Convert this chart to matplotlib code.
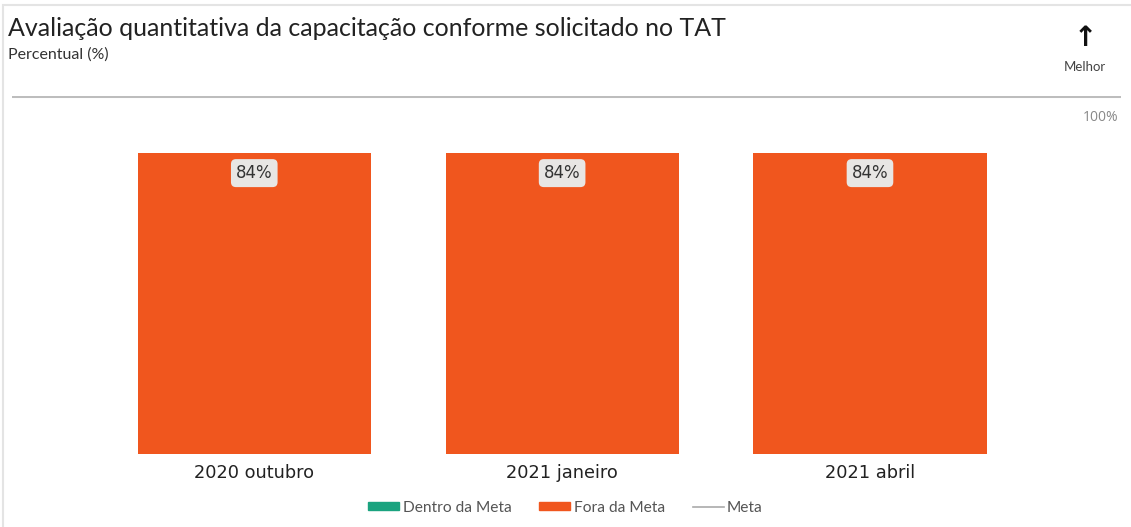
import matplotlib.pyplot as plt
from matplotlib.patches import Rectangle, Patch
from matplotlib.lines import Line2D

periodos = ['2020 outubro', '2021 janeiro', '2021 abril']
fora_meta = [84, 84, 84]
dentro_meta = [0, 0, 0]

cor_fora = '#F0561E'
cor_dentro = '#1AA37F'
cinza = '#BDBDBD'

fig = plt.figure(figsize=(11.31, 5.27), dpi=100)

# moldura do cartão
fig.patches.append(Rectangle((0.003, -0.01), 1.2, 1.0, transform=fig.transFigure,
                             fill=False, edgecolor='#E4E4E4', linewidth=1.5))

ax = fig.add_axes([0.0106, 0.1385, 0.981, 0.679])
x = range(len(periodos))
ax.bar(x, dentro_meta, width=0.757, color=cor_dentro)
bars = ax.bar(x, fora_meta, bottom=dentro_meta, width=0.757, color=cor_fora)

for b, v in zip(bars, fora_meta):
    ax.text(b.get_x() + b.get_width() / 2, v - 5.5, f'{v}%', ha='center', va='center',
            fontsize=12, color='#333333', family='DejaVu Sans',
            bbox=dict(boxstyle='round,pad=0.3,rounding_size=0.3', fc='#E8E6E4', ec='none'))

ax.set_xlim(-0.787, 2.817)
ax.set_ylim(0, 100)
ax.axhline(100, color=cinza, linewidth=2.2)
ax.set_xticks(list(x))
ax.set_xticklabels(periodos, fontsize=12.8, color='#222222', family='DejaVu Sans')
ax.tick_params(axis='x', length=0, pad=7)
ax.set_yticks([])
for s in ax.spines.values():
    s.set_visible(False)
ax.text(0.997, 0.962, '100%', transform=ax.transAxes, ha='right', va='top',
        fontsize=10, color='#888888', family='Open Sans')

fig.text(0.007, 0.946, 'Avaliação quantitativa da capacitação conforme solicitado no TAT',
         fontsize=18, color='#222222', family='Lato', va='center')
fig.text(0.007, 0.897, 'Percentual (%)', fontsize=11.5, color='#333333', family='Lato', va='center')
fig.text(0.9595, 0.928, '↑', fontsize=20, fontweight='bold', color='#111111',
         family='DejaVu Sans', ha='center', va='center')
fig.text(0.9595, 0.873, 'Melhor', fontsize=9.5, color='#444444', family='Lato',
         ha='center', va='center')

handles = [Patch(color=cor_dentro, label='Dentro da Meta'),
           Patch(color=cor_fora, label='Fora da Meta'),
           Line2D([], [], color='#AAAAAA', linewidth=1.2, label='Meta')]
fig.legend(handles=handles, loc='center', bbox_to_anchor=(0.5, 0.037), ncol=3, frameon=False,
           prop={'family': 'Lato', 'size': 11.2}, labelcolor='#555555',
           handlelength=2.0, handleheight=0.45, handletextpad=0.2, columnspacing=1.8)

fig.savefig('out.png', dpi=100)
